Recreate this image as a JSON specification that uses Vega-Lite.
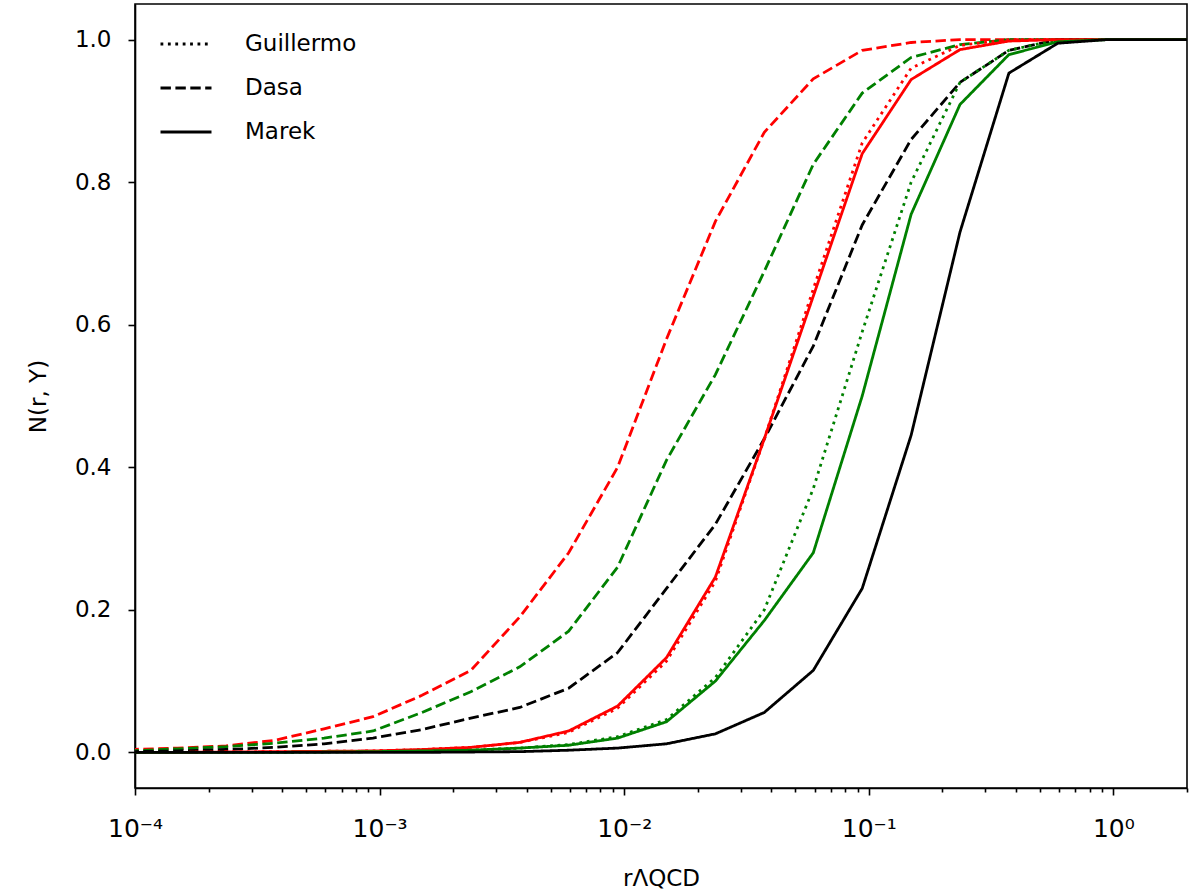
{
  "$schema": "https://vega.github.io/schema/vega-lite/v6.json",
  "width": 1052,
  "height": 784,
  "autosize": {"type": "none"},
  "padding": {"left": 135, "top": 4, "right": 15, "bottom": 108},
  "background": "white",
  "config": {
    "font": "DejaVu Sans",
    "view": {"stroke": "black", "strokeWidth": 1.6},
    "axis": {
      "domainColor": "black", "domainWidth": 1.6,
      "tickColor": "black", "tickWidth": 1.6,
      "labelColor": "black", "labelFontSize": 23, "labelFont": "DejaVu Sans",
      "titleColor": "black", "titleFontSize": 23, "titleFont": "DejaVu Sans", "titleFontWeight": "normal",
      "grid": false
    },
    "legend": {
      "labelFontSize": 23, "labelFont": "DejaVu Sans", "labelColor": "black",
      "symbolStrokeColor": "black", "symbolStrokeWidth": 3, "symbolType": "stroke"
    }
  },
  "data": {
    "values": [
      {"x":0.000094,"y":0.004,"person":"Dasa","series":"red"},
      {"x":0.000149,"y":0.006,"person":"Dasa","series":"red"},
      {"x":0.000236,"y":0.009,"person":"Dasa","series":"red"},
      {"x":0.000374,"y":0.017,"person":"Dasa","series":"red"},
      {"x":0.000593,"y":0.033,"person":"Dasa","series":"red"},
      {"x":0.00094,"y":0.05,"person":"Dasa","series":"red"},
      {"x":0.00149,"y":0.08,"person":"Dasa","series":"red"},
      {"x":0.00236,"y":0.115,"person":"Dasa","series":"red"},
      {"x":0.00374,"y":0.19,"person":"Dasa","series":"red"},
      {"x":0.00593,"y":0.28,"person":"Dasa","series":"red"},
      {"x":0.0094,"y":0.40,"person":"Dasa","series":"red"},
      {"x":0.0149,"y":0.58,"person":"Dasa","series":"red"},
      {"x":0.0236,"y":0.745,"person":"Dasa","series":"red"},
      {"x":0.0374,"y":0.87,"person":"Dasa","series":"red"},
      {"x":0.0593,"y":0.945,"person":"Dasa","series":"red"},
      {"x":0.094,"y":0.985,"person":"Dasa","series":"red"},
      {"x":0.149,"y":0.996,"person":"Dasa","series":"red"},
      {"x":0.236,"y":1.0,"person":"Dasa","series":"red"},
      {"x":0.374,"y":1.0,"person":"Dasa","series":"red"},
      {"x":0.593,"y":1.0,"person":"Dasa","series":"red"},
      {"x":0.94,"y":1.0,"person":"Dasa","series":"red"},
      {"x":1.49,"y":1.0,"person":"Dasa","series":"red"},
      {"x":2.36,"y":1.0,"person":"Dasa","series":"red"},

      {"x":0.000094,"y":0.002,"person":"Dasa","series":"green"},
      {"x":0.000149,"y":0.005,"person":"Dasa","series":"green"},
      {"x":0.000236,"y":0.008,"person":"Dasa","series":"green"},
      {"x":0.000374,"y":0.013,"person":"Dasa","series":"green"},
      {"x":0.000593,"y":0.02,"person":"Dasa","series":"green"},
      {"x":0.00094,"y":0.03,"person":"Dasa","series":"green"},
      {"x":0.00149,"y":0.056,"person":"Dasa","series":"green"},
      {"x":0.00236,"y":0.085,"person":"Dasa","series":"green"},
      {"x":0.00374,"y":0.12,"person":"Dasa","series":"green"},
      {"x":0.00593,"y":0.17,"person":"Dasa","series":"green"},
      {"x":0.0094,"y":0.26,"person":"Dasa","series":"green"},
      {"x":0.0149,"y":0.41,"person":"Dasa","series":"green"},
      {"x":0.0236,"y":0.53,"person":"Dasa","series":"green"},
      {"x":0.0374,"y":0.675,"person":"Dasa","series":"green"},
      {"x":0.0593,"y":0.825,"person":"Dasa","series":"green"},
      {"x":0.094,"y":0.925,"person":"Dasa","series":"green"},
      {"x":0.149,"y":0.975,"person":"Dasa","series":"green"},
      {"x":0.236,"y":0.993,"person":"Dasa","series":"green"},
      {"x":0.374,"y":1.0,"person":"Dasa","series":"green"},
      {"x":0.593,"y":1.0,"person":"Dasa","series":"green"},
      {"x":0.94,"y":1.0,"person":"Dasa","series":"green"},
      {"x":1.49,"y":1.0,"person":"Dasa","series":"green"},
      {"x":2.36,"y":1.0,"person":"Dasa","series":"green"},

      {"x":0.000094,"y":0.001,"person":"Dasa","series":"black"},
      {"x":0.000149,"y":0.002,"person":"Dasa","series":"black"},
      {"x":0.000236,"y":0.004,"person":"Dasa","series":"black"},
      {"x":0.000374,"y":0.007,"person":"Dasa","series":"black"},
      {"x":0.000593,"y":0.012,"person":"Dasa","series":"black"},
      {"x":0.00094,"y":0.02,"person":"Dasa","series":"black"},
      {"x":0.00149,"y":0.032,"person":"Dasa","series":"black"},
      {"x":0.00236,"y":0.048,"person":"Dasa","series":"black"},
      {"x":0.00374,"y":0.063,"person":"Dasa","series":"black"},
      {"x":0.00593,"y":0.09,"person":"Dasa","series":"black"},
      {"x":0.0094,"y":0.14,"person":"Dasa","series":"black"},
      {"x":0.0149,"y":0.23,"person":"Dasa","series":"black"},
      {"x":0.0236,"y":0.32,"person":"Dasa","series":"black"},
      {"x":0.0374,"y":0.44,"person":"Dasa","series":"black"},
      {"x":0.0593,"y":0.57,"person":"Dasa","series":"black"},
      {"x":0.094,"y":0.74,"person":"Dasa","series":"black"},
      {"x":0.149,"y":0.86,"person":"Dasa","series":"black"},
      {"x":0.236,"y":0.94,"person":"Dasa","series":"black"},
      {"x":0.374,"y":0.985,"person":"Dasa","series":"black"},
      {"x":0.593,"y":1.0,"person":"Dasa","series":"black"},
      {"x":0.94,"y":1.0,"person":"Dasa","series":"black"},
      {"x":1.49,"y":1.0,"person":"Dasa","series":"black"},
      {"x":2.36,"y":1.0,"person":"Dasa","series":"black"},

      {"x":0.000094,"y":0.0,"person":"Guillermo","series":"red"},
      {"x":0.000149,"y":0.0,"person":"Guillermo","series":"red"},
      {"x":0.000236,"y":0.0005,"person":"Guillermo","series":"red"},
      {"x":0.000374,"y":0.001,"person":"Guillermo","series":"red"},
      {"x":0.000593,"y":0.0015,"person":"Guillermo","series":"red"},
      {"x":0.00094,"y":0.002,"person":"Guillermo","series":"red"},
      {"x":0.00149,"y":0.004,"person":"Guillermo","series":"red"},
      {"x":0.00236,"y":0.007,"person":"Guillermo","series":"red"},
      {"x":0.00374,"y":0.014,"person":"Guillermo","series":"red"},
      {"x":0.00593,"y":0.028,"person":"Guillermo","series":"red"},
      {"x":0.0094,"y":0.062,"person":"Guillermo","series":"red"},
      {"x":0.0149,"y":0.128,"person":"Guillermo","series":"red"},
      {"x":0.0236,"y":0.24,"person":"Guillermo","series":"red"},
      {"x":0.0374,"y":0.44,"person":"Guillermo","series":"red"},
      {"x":0.0593,"y":0.65,"person":"Guillermo","series":"red"},
      {"x":0.094,"y":0.855,"person":"Guillermo","series":"red"},
      {"x":0.149,"y":0.96,"person":"Guillermo","series":"red"},
      {"x":0.236,"y":0.992,"person":"Guillermo","series":"red"},
      {"x":0.374,"y":1.0,"person":"Guillermo","series":"red"},
      {"x":0.593,"y":1.0,"person":"Guillermo","series":"red"},
      {"x":0.94,"y":1.0,"person":"Guillermo","series":"red"},
      {"x":1.49,"y":1.0,"person":"Guillermo","series":"red"},
      {"x":2.36,"y":1.0,"person":"Guillermo","series":"red"},

      {"x":0.000094,"y":0.0,"person":"Guillermo","series":"green"},
      {"x":0.000149,"y":0.0,"person":"Guillermo","series":"green"},
      {"x":0.000236,"y":0.0,"person":"Guillermo","series":"green"},
      {"x":0.000374,"y":0.0,"person":"Guillermo","series":"green"},
      {"x":0.000593,"y":0.0005,"person":"Guillermo","series":"green"},
      {"x":0.00094,"y":0.001,"person":"Guillermo","series":"green"},
      {"x":0.00149,"y":0.002,"person":"Guillermo","series":"green"},
      {"x":0.00236,"y":0.003,"person":"Guillermo","series":"green"},
      {"x":0.00374,"y":0.006,"person":"Guillermo","series":"green"},
      {"x":0.00593,"y":0.011,"person":"Guillermo","series":"green"},
      {"x":0.0094,"y":0.022,"person":"Guillermo","series":"green"},
      {"x":0.0149,"y":0.046,"person":"Guillermo","series":"green"},
      {"x":0.0236,"y":0.105,"person":"Guillermo","series":"green"},
      {"x":0.0374,"y":0.20,"person":"Guillermo","series":"green"},
      {"x":0.0593,"y":0.37,"person":"Guillermo","series":"green"},
      {"x":0.094,"y":0.59,"person":"Guillermo","series":"green"},
      {"x":0.149,"y":0.80,"person":"Guillermo","series":"green"},
      {"x":0.236,"y":0.94,"person":"Guillermo","series":"green"},
      {"x":0.374,"y":0.985,"person":"Guillermo","series":"green"},
      {"x":0.593,"y":1.0,"person":"Guillermo","series":"green"},
      {"x":0.94,"y":1.0,"person":"Guillermo","series":"green"},
      {"x":1.49,"y":1.0,"person":"Guillermo","series":"green"},
      {"x":2.36,"y":1.0,"person":"Guillermo","series":"green"},

      {"x":0.000094,"y":0.0,"person":"Marek","series":"red"},
      {"x":0.000149,"y":0.0,"person":"Marek","series":"red"},
      {"x":0.000236,"y":0.0005,"person":"Marek","series":"red"},
      {"x":0.000374,"y":0.001,"person":"Marek","series":"red"},
      {"x":0.000593,"y":0.0015,"person":"Marek","series":"red"},
      {"x":0.00094,"y":0.002,"person":"Marek","series":"red"},
      {"x":0.00149,"y":0.004,"person":"Marek","series":"red"},
      {"x":0.00236,"y":0.007,"person":"Marek","series":"red"},
      {"x":0.00374,"y":0.014,"person":"Marek","series":"red"},
      {"x":0.00593,"y":0.03,"person":"Marek","series":"red"},
      {"x":0.0094,"y":0.065,"person":"Marek","series":"red"},
      {"x":0.0149,"y":0.133,"person":"Marek","series":"red"},
      {"x":0.0236,"y":0.246,"person":"Marek","series":"red"},
      {"x":0.0374,"y":0.44,"person":"Marek","series":"red"},
      {"x":0.0593,"y":0.64,"person":"Marek","series":"red"},
      {"x":0.094,"y":0.84,"person":"Marek","series":"red"},
      {"x":0.149,"y":0.944,"person":"Marek","series":"red"},
      {"x":0.236,"y":0.986,"person":"Marek","series":"red"},
      {"x":0.374,"y":0.998,"person":"Marek","series":"red"},
      {"x":0.593,"y":1.0,"person":"Marek","series":"red"},
      {"x":0.94,"y":1.0,"person":"Marek","series":"red"},
      {"x":1.49,"y":1.0,"person":"Marek","series":"red"},
      {"x":2.36,"y":1.0,"person":"Marek","series":"red"},

      {"x":0.000094,"y":0.0,"person":"Marek","series":"green"},
      {"x":0.000149,"y":0.0,"person":"Marek","series":"green"},
      {"x":0.000236,"y":0.0,"person":"Marek","series":"green"},
      {"x":0.000374,"y":0.0,"person":"Marek","series":"green"},
      {"x":0.000593,"y":0.0005,"person":"Marek","series":"green"},
      {"x":0.00094,"y":0.001,"person":"Marek","series":"green"},
      {"x":0.00149,"y":0.002,"person":"Marek","series":"green"},
      {"x":0.00236,"y":0.003,"person":"Marek","series":"green"},
      {"x":0.00374,"y":0.006,"person":"Marek","series":"green"},
      {"x":0.00593,"y":0.01,"person":"Marek","series":"green"},
      {"x":0.0094,"y":0.02,"person":"Marek","series":"green"},
      {"x":0.0149,"y":0.043,"person":"Marek","series":"green"},
      {"x":0.0236,"y":0.10,"person":"Marek","series":"green"},
      {"x":0.0374,"y":0.185,"person":"Marek","series":"green"},
      {"x":0.0593,"y":0.28,"person":"Marek","series":"green"},
      {"x":0.094,"y":0.50,"person":"Marek","series":"green"},
      {"x":0.149,"y":0.755,"person":"Marek","series":"green"},
      {"x":0.236,"y":0.909,"person":"Marek","series":"green"},
      {"x":0.374,"y":0.979,"person":"Marek","series":"green"},
      {"x":0.593,"y":0.997,"person":"Marek","series":"green"},
      {"x":0.94,"y":1.0,"person":"Marek","series":"green"},
      {"x":1.49,"y":1.0,"person":"Marek","series":"green"},
      {"x":2.36,"y":1.0,"person":"Marek","series":"green"},

      {"x":0.000094,"y":0.0,"person":"Marek","series":"black"},
      {"x":0.000149,"y":0.0,"person":"Marek","series":"black"},
      {"x":0.000236,"y":0.0,"person":"Marek","series":"black"},
      {"x":0.000374,"y":0.0,"person":"Marek","series":"black"},
      {"x":0.000593,"y":0.0,"person":"Marek","series":"black"},
      {"x":0.00094,"y":0.0,"person":"Marek","series":"black"},
      {"x":0.00149,"y":0.0,"person":"Marek","series":"black"},
      {"x":0.00236,"y":0.0005,"person":"Marek","series":"black"},
      {"x":0.00374,"y":0.001,"person":"Marek","series":"black"},
      {"x":0.00593,"y":0.003,"person":"Marek","series":"black"},
      {"x":0.0094,"y":0.006,"person":"Marek","series":"black"},
      {"x":0.0149,"y":0.012,"person":"Marek","series":"black"},
      {"x":0.0236,"y":0.026,"person":"Marek","series":"black"},
      {"x":0.0374,"y":0.056,"person":"Marek","series":"black"},
      {"x":0.0593,"y":0.115,"person":"Marek","series":"black"},
      {"x":0.094,"y":0.23,"person":"Marek","series":"black"},
      {"x":0.149,"y":0.445,"person":"Marek","series":"black"},
      {"x":0.236,"y":0.73,"person":"Marek","series":"black"},
      {"x":0.374,"y":0.953,"person":"Marek","series":"black"},
      {"x":0.593,"y":0.995,"person":"Marek","series":"black"},
      {"x":0.94,"y":1.0,"person":"Marek","series":"black"},
      {"x":1.49,"y":1.0,"person":"Marek","series":"black"},
      {"x":2.36,"y":1.0,"person":"Marek","series":"black"}
    ]
  },
  "mark": {"type": "line", "clip": true, "strokeWidth": 2.8},
  "encoding": {
    "x": {
      "field": "x", "type": "quantitative",
      "scale": {"type": "log", "domain": [0.0001, 2], "nice": false},
      "axis": {
        "title": "rΛQCD",
        "values": [0.0001,0.0002,0.0003,0.0004,0.0005,0.0006,0.0007,0.0008,0.0009,0.001,0.002,0.003,0.004,0.005,0.006,0.007,0.008,0.009,0.01,0.02,0.03,0.04,0.05,0.06,0.07,0.08,0.09,0.1,0.2,0.3,0.4,0.5,0.6,0.7,0.8,0.9,1,2],
        "labelExpr": "abs(log(datum.value)/LN10 - round(log(datum.value)/LN10)) < 1e-6 ? ['10⁻⁴','10⁻³','10⁻²','10⁻¹','10⁰'][round(log(datum.value)/LN10)+4] : ''",
        "tickSize": {"condition": {"test": "abs(log(datum.value)/LN10 - round(log(datum.value)/LN10)) < 1e-6", "value": 7}, "value": 4},
        "labelPadding": 21,
        "titlePadding": 26,
        "labelFontSize": 25,
        "labelFlush": false,
        "labelOverlap": false
      }
    },
    "y": {
      "field": "y", "type": "quantitative",
      "scale": {"domain": [-0.05, 1.05], "nice": false, "zero": false},
      "axis": {
        "title": "N(r, Y)",
        "values": [0, 0.2, 0.4, 0.6, 0.8, 1.0],
        "format": ".1f",
        "tickSize": 7,
        "labelPadding": 17,
        "titlePadding": 24
      }
    },
    "color": {
      "field": "series", "type": "nominal",
      "scale": {"domain": ["red", "green", "black"], "range": ["#ff0000", "#008000", "#000000"]},
      "legend": null
    },
    "strokeDash": {
      "field": "person", "type": "nominal",
      "scale": {"domain": ["Guillermo", "Dasa", "Marek"], "range": [[2.8, 4.6], [10.4, 4.5], [1, 0]]},
      "legend": {
        "title": null,
        "orient": "none",
        "legendX": 24,
        "legendY": 13,
        "symbolSize": 2600,
        "labelOffset": 32,
        "rowPadding": 5,
        "symbolStrokeColor": "black"
      }
    }
  }
}
